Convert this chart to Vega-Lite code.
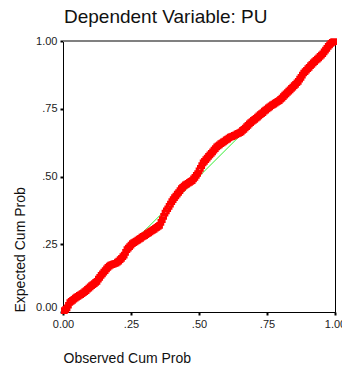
{
  "$schema": "https://vega.github.io/schema/vega-lite/v6.json",
  "width": 272,
  "height": 271,
  "autosize": {"type": "none"},
  "padding": {"left": 63, "top": 41, "right": 7, "bottom": 55},
  "background": "white",
  "config": {"view": {"stroke": "#000000", "strokeWidth": 1}, "font": "Liberation Sans"},
  "title": {"text": "Dependent Variable: PU", "anchor": "start", "frame": "group", "fontSize": 19, "fontWeight": "normal", "color": "#111111", "font": "Liberation Sans", "offset": 8, "dx": 1},
  "layer": [
    {
      "data": {"values": [{"x": 0, "y": 0}, {"x": 1, "y": 1}]},
      "mark": {"type": "line", "color": "#33ee33", "strokeWidth": 1},
      "encoding": {
        "x": {"field": "x", "type": "quantitative", "scale": {"domain": [0, 1], "nice": false},
          "axis": {"values": [0, 0.25, 0.5, 0.75, 1], "grid": false, "labelFlush": false,
            "labelExpr": "datum.value > 0 && datum.value < 1 ? slice(format(datum.value, '.2f'), 1) : format(datum.value, '.2f')",
            "domainColor": "#000000", "domainWidth": 1, "tickColor": "#000000", "tickSize": 3, "tickWidth": 2,
            "labelFont": "Liberation Sans", "labelFontSize": 11, "labelColor": "#222222", "labelPadding": 3,
            "title": "Observed Cum Prob", "titleFont": "Liberation Sans", "titleFontSize": 14, "titleFontWeight": "normal", "titleColor": "#111111",
            "titleAnchor": "start", "titleAlign": "left", "titleBaseline": "alphabetic", "titleX": 0, "titleY": 50}},
        "y": {"field": "y", "type": "quantitative", "scale": {"domain": [0, 1], "nice": false},
          "axis": {"values": [0, 0.25, 0.5, 0.75, 1], "grid": false, "labelFlush": false,
            "labelExpr": "datum.value > 0 && datum.value < 1 ? slice(format(datum.value, '.2f'), 1) : format(datum.value, '.2f')",
            "labelBaseline": {"condition": {"test": "datum.value == 0", "value": "bottom"}, "value": "middle"},
            "domainColor": "#000000", "domainWidth": 1, "tickColor": "#000000", "tickSize": 3, "tickWidth": 2,
            "labelFont": "Liberation Sans", "labelFontSize": 11, "labelColor": "#222222", "labelPadding": 3,
            "title": "Expected Cum Prob", "titleFont": "Liberation Sans", "titleFontSize": 14, "titleFontWeight": "normal", "titleColor": "#111111",
            "titleAngle": -90, "titleAnchor": "start", "titleAlign": "left", "titleBaseline": "alphabetic", "titleX": -39, "titleY": 271}}
      }
    },
    {
      "data": {"values": [{"y": 1}]},
      "mark": {"type": "rule", "color": "#808080", "strokeWidth": 2},
      "encoding": {"y": {"field": "y", "type": "quantitative"}}
    },
    {
      "data": {"values": [
        {"x": 0.005, "y": 0.005}, {"x": 0.015, "y": 0.015}, {"x": 0.025, "y": 0.035}, {"x": 0.035, "y": 0.043}, {"x": 0.045, "y": 0.051},
        {"x": 0.055, "y": 0.058}, {"x": 0.065, "y": 0.064}, {"x": 0.075, "y": 0.071}, {"x": 0.085, "y": 0.079}, {"x": 0.095, "y": 0.088},
        {"x": 0.105, "y": 0.097}, {"x": 0.115, "y": 0.105}, {"x": 0.125, "y": 0.113}, {"x": 0.135, "y": 0.128}, {"x": 0.145, "y": 0.141},
        {"x": 0.155, "y": 0.153}, {"x": 0.165, "y": 0.165}, {"x": 0.175, "y": 0.173}, {"x": 0.185, "y": 0.177}, {"x": 0.195, "y": 0.18},
        {"x": 0.205, "y": 0.188}, {"x": 0.215, "y": 0.198}, {"x": 0.225, "y": 0.21}, {"x": 0.235, "y": 0.23}, {"x": 0.245, "y": 0.241},
        {"x": 0.255, "y": 0.252}, {"x": 0.265, "y": 0.259}, {"x": 0.275, "y": 0.265}, {"x": 0.285, "y": 0.272}, {"x": 0.295, "y": 0.279},
        {"x": 0.305, "y": 0.285}, {"x": 0.315, "y": 0.292}, {"x": 0.325, "y": 0.299}, {"x": 0.335, "y": 0.305}, {"x": 0.345, "y": 0.312},
        {"x": 0.355, "y": 0.32}, {"x": 0.365, "y": 0.341}, {"x": 0.375, "y": 0.365}, {"x": 0.385, "y": 0.381}, {"x": 0.395, "y": 0.398},
        {"x": 0.405, "y": 0.415}, {"x": 0.415, "y": 0.428}, {"x": 0.425, "y": 0.441}, {"x": 0.435, "y": 0.455}, {"x": 0.445, "y": 0.465},
        {"x": 0.455, "y": 0.472}, {"x": 0.465, "y": 0.478}, {"x": 0.475, "y": 0.485}, {"x": 0.485, "y": 0.497}, {"x": 0.495, "y": 0.511},
        {"x": 0.505, "y": 0.53}, {"x": 0.515, "y": 0.55}, {"x": 0.525, "y": 0.562}, {"x": 0.535, "y": 0.574}, {"x": 0.545, "y": 0.585},
        {"x": 0.555, "y": 0.597}, {"x": 0.565, "y": 0.609}, {"x": 0.575, "y": 0.617}, {"x": 0.585, "y": 0.624}, {"x": 0.595, "y": 0.631},
        {"x": 0.605, "y": 0.638}, {"x": 0.615, "y": 0.645}, {"x": 0.625, "y": 0.649}, {"x": 0.635, "y": 0.654}, {"x": 0.645, "y": 0.659},
        {"x": 0.655, "y": 0.665}, {"x": 0.665, "y": 0.674}, {"x": 0.675, "y": 0.684}, {"x": 0.685, "y": 0.694}, {"x": 0.695, "y": 0.703},
        {"x": 0.705, "y": 0.711}, {"x": 0.715, "y": 0.719}, {"x": 0.725, "y": 0.728}, {"x": 0.735, "y": 0.736}, {"x": 0.745, "y": 0.745},
        {"x": 0.755, "y": 0.753}, {"x": 0.765, "y": 0.761}, {"x": 0.775, "y": 0.767}, {"x": 0.785, "y": 0.774}, {"x": 0.795, "y": 0.78},
        {"x": 0.805, "y": 0.789}, {"x": 0.815, "y": 0.8}, {"x": 0.825, "y": 0.81}, {"x": 0.835, "y": 0.82}, {"x": 0.845, "y": 0.83},
        {"x": 0.855, "y": 0.84}, {"x": 0.865, "y": 0.851}, {"x": 0.875, "y": 0.866}, {"x": 0.885, "y": 0.882}, {"x": 0.895, "y": 0.892},
        {"x": 0.905, "y": 0.903}, {"x": 0.915, "y": 0.914}, {"x": 0.925, "y": 0.924}, {"x": 0.935, "y": 0.933}, {"x": 0.945, "y": 0.943},
        {"x": 0.955, "y": 0.953}, {"x": 0.965, "y": 0.966}, {"x": 0.975, "y": 0.98}, {"x": 0.985, "y": 0.991}, {"x": 0.995, "y": 0.998},
        {"x": 0.01, "y": 0.01}, {"x": 0.02, "y": 0.025}, {"x": 0.03, "y": 0.039}, {"x": 0.04, "y": 0.047}, {"x": 0.05, "y": 0.055},
        {"x": 0.06, "y": 0.061}, {"x": 0.07, "y": 0.068}, {"x": 0.08, "y": 0.075}, {"x": 0.09, "y": 0.084}, {"x": 0.1, "y": 0.093},
        {"x": 0.11, "y": 0.101}, {"x": 0.12, "y": 0.109}, {"x": 0.13, "y": 0.121}, {"x": 0.14, "y": 0.135}, {"x": 0.15, "y": 0.147},
        {"x": 0.16, "y": 0.159}, {"x": 0.17, "y": 0.169}, {"x": 0.18, "y": 0.175}, {"x": 0.19, "y": 0.179}, {"x": 0.2, "y": 0.184},
        {"x": 0.21, "y": 0.193}, {"x": 0.22, "y": 0.204}, {"x": 0.23, "y": 0.22}, {"x": 0.24, "y": 0.236}, {"x": 0.25, "y": 0.247},
        {"x": 0.26, "y": 0.256}, {"x": 0.27, "y": 0.262}, {"x": 0.28, "y": 0.269}, {"x": 0.29, "y": 0.276}, {"x": 0.3, "y": 0.282},
        {"x": 0.31, "y": 0.289}, {"x": 0.32, "y": 0.296}, {"x": 0.33, "y": 0.302}, {"x": 0.34, "y": 0.309}, {"x": 0.35, "y": 0.316},
        {"x": 0.36, "y": 0.331}, {"x": 0.37, "y": 0.353}, {"x": 0.38, "y": 0.373}, {"x": 0.39, "y": 0.39}, {"x": 0.4, "y": 0.407},
        {"x": 0.41, "y": 0.422}, {"x": 0.42, "y": 0.435}, {"x": 0.43, "y": 0.448}, {"x": 0.44, "y": 0.46}, {"x": 0.45, "y": 0.469},
        {"x": 0.46, "y": 0.475}, {"x": 0.47, "y": 0.482}, {"x": 0.48, "y": 0.491}, {"x": 0.49, "y": 0.504}, {"x": 0.5, "y": 0.521},
        {"x": 0.51, "y": 0.54}, {"x": 0.52, "y": 0.556}, {"x": 0.53, "y": 0.568}, {"x": 0.54, "y": 0.58}, {"x": 0.55, "y": 0.591},
        {"x": 0.56, "y": 0.603}, {"x": 0.57, "y": 0.613}, {"x": 0.58, "y": 0.621}, {"x": 0.59, "y": 0.628}, {"x": 0.6, "y": 0.635},
        {"x": 0.61, "y": 0.642}, {"x": 0.62, "y": 0.647}, {"x": 0.63, "y": 0.652}, {"x": 0.64, "y": 0.657}, {"x": 0.65, "y": 0.662},
        {"x": 0.66, "y": 0.67}, {"x": 0.67, "y": 0.679}, {"x": 0.68, "y": 0.689}, {"x": 0.69, "y": 0.699}, {"x": 0.7, "y": 0.707},
        {"x": 0.71, "y": 0.715}, {"x": 0.72, "y": 0.724}, {"x": 0.73, "y": 0.732}, {"x": 0.74, "y": 0.741}, {"x": 0.75, "y": 0.749},
        {"x": 0.76, "y": 0.757}, {"x": 0.77, "y": 0.764}, {"x": 0.78, "y": 0.771}, {"x": 0.79, "y": 0.777}, {"x": 0.8, "y": 0.785},
        {"x": 0.81, "y": 0.795}, {"x": 0.82, "y": 0.805}, {"x": 0.83, "y": 0.815}, {"x": 0.84, "y": 0.825}, {"x": 0.85, "y": 0.835},
        {"x": 0.86, "y": 0.846}, {"x": 0.87, "y": 0.859}, {"x": 0.88, "y": 0.874}, {"x": 0.89, "y": 0.887}, {"x": 0.9, "y": 0.898},
        {"x": 0.91, "y": 0.909}, {"x": 0.92, "y": 0.919}, {"x": 0.93, "y": 0.929}, {"x": 0.94, "y": 0.938}, {"x": 0.95, "y": 0.948},
        {"x": 0.96, "y": 0.96}, {"x": 0.97, "y": 0.973}, {"x": 0.98, "y": 0.986}, {"x": 0.99, "y": 0.995}
      ]},
      "mark": {"type": "point", "shape": "square", "filled": false, "color": "#ff0000", "strokeWidth": 2, "size": 22, "opacity": 1},
      "encoding": {
        "x": {"field": "x", "type": "quantitative"},
        "y": {"field": "y", "type": "quantitative"}
      }
    }
  ]
}
